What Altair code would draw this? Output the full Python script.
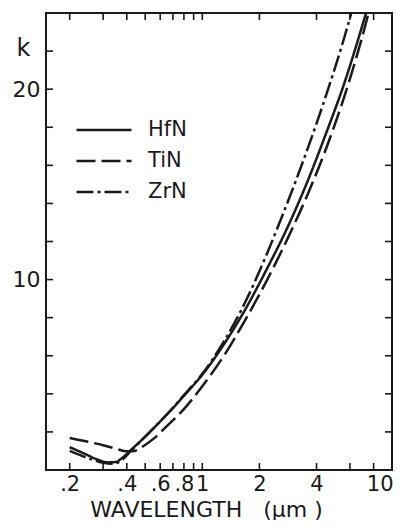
import altair as alt
import pandas as pd

# ---- data ----
materials = ["HfN", "TiN", "ZrN"]

hfn_lam = [0.2, 0.24, 0.28, 0.32, 0.35, 0.38, 0.42, 0.5, 0.6, 0.7, 0.8, 1.0, 1.3, 1.7, 2.2, 2.8, 3.6, 4.5, 5.6, 7.1, 7.6]
hfn_k = [1.2, 0.85, 0.55, 0.4, 0.42, 0.65, 1.05, 1.75, 2.55, 3.25, 3.9, 5.0, 6.6, 8.5, 10.6, 12.7, 15.2, 17.7, 20.3, 23.6, 24.6]

tin_lam = [0.2, 0.25, 0.3, 0.35, 0.4, 0.44, 0.48, 0.55, 0.65, 0.8, 1.0, 1.3, 1.7, 2.2, 2.8, 3.6, 4.5, 5.6, 7.3, 7.7]
tin_k = [1.68, 1.48, 1.3, 1.12, 0.98, 1.0, 1.2, 1.62, 2.3, 3.2, 4.4, 6.0, 7.95, 10.0, 12.1, 14.5, 16.9, 19.6, 23.5, 24.4]

zrn_lam = [0.2, 0.25, 0.3, 0.34, 0.38, 0.42, 0.5, 0.6, 0.7, 0.8, 1.0, 1.3, 1.7, 2.2, 2.8, 3.6, 4.5, 5.6, 6.3]
zrn_k = [1.0, 0.62, 0.38, 0.33, 0.55, 1.0, 1.75, 2.55, 3.27, 3.93, 5.05, 6.75, 8.9, 11.4, 14.0, 16.9, 19.7, 22.7, 24.5]

x_tick_values = [0.2, 0.3, 0.4, 0.5, 0.6, 0.7, 0.8, 0.9, 1, 2, 4, 6, 8]
x_label_values = [0.2, 0.4, 0.6, 0.8, 1, 2, 4, 10]
y_tick_values = [2, 4, 6, 8, 10, 12, 14, 16, 18, 20, 22]
y_label_values = [10, 20]

rows = []
for name, lams, ks in [("HfN", hfn_lam, hfn_k), ("TiN", tin_lam, tin_k), ("ZrN", zrn_lam, zrn_k)]:
    for l, k in zip(lams, ks):
        rows.append({"material": name, "lam": l, "k": k})
df = pd.DataFrame(rows)

W, H = 346, 457
INK = "#1a1a1a"
FONT = "DejaVu Sans"
TL = 7  # inward tick length
NB = "\u00a0"

xscale = alt.Scale(type="log", domain=[0.15, 10], nice=False)
yscale = alt.Scale(domain=[0, 24], nice=False, zero=False)

x_axis = alt.Axis(
    values=x_label_values,
    labelExpr="datum.value < 1 ? replace(format(datum.value, '.1f'), '0.', '.') : format(datum.value, 'd')",
    ticks=False, domain=False, grid=False,
    labelFontSize=21, labelFont=FONT, labelColor=INK, labelPadding=3,
    labelFlush=1, labelFlushOffset=1, labelOverlap=False,
    title="WAVELENGTH" + NB * 3 + "(μm" + NB + ")", titleFont=FONT, titleFontSize=22,
    titleFontWeight="normal", titleColor=INK, titleX=160, titleY=46,
    titleAlign="center", titleBaseline="alphabetic")
y_axis = alt.Axis(
    values=y_label_values, ticks=False, domain=False, grid=False,
    labelFontSize=22, labelFont=FONT, labelColor=INK, labelPadding=6,
    labelFlush=False, labelOverlap=False,
    title="k", titleFont=FONT, titleFontSize=24, titleFontWeight="normal", titleColor=INK,
    titleAngle=0, titleX=-23, titleY=42, titleAlign="center", titleBaseline="alphabetic")

lines = alt.Chart(df).mark_line(clip=True, strokeWidth=2.5, color=INK, interpolate="monotone").encode(
    x=alt.X("lam:Q", scale=xscale, axis=x_axis),
    y=alt.Y("k:Q", scale=yscale, axis=y_axis),
    strokeDash=alt.StrokeDash("material:N",
        scale=alt.Scale(domain=materials, range=[[1, 0], [19, 6], [17, 4, 3, 4]]),
        legend=alt.Legend(title=None, orient="none", legendX=29, legendY=107,
                          symbolType="stroke", symbolSize=3025, symbolStrokeWidth=2.5,
                          symbolStrokeColor=INK, clipHeight=20, rowPadding=10,
                          labelFontSize=21, labelFont=FONT, labelColor=INK, labelOffset=15,
                          padding=0)),
)

xt = pd.DataFrame({"v": x_tick_values})
yt = pd.DataFrame({"v": y_tick_values})

bottom_ticks = alt.Chart(xt).mark_rule(color=INK, strokeWidth=1.6).encode(
    x=alt.X("v:Q", scale=xscale, axis=x_axis), y=alt.value(H), y2=alt.value(H - TL))
top_ticks = alt.Chart(xt).mark_rule(color=INK, strokeWidth=1.6).encode(
    x=alt.X("v:Q", scale=xscale, axis=x_axis), y=alt.value(0), y2=alt.value(TL))
left_ticks = alt.Chart(yt).mark_rule(color=INK, strokeWidth=1.6).encode(
    y=alt.Y("v:Q", scale=yscale, axis=y_axis), x=alt.value(0), x2=alt.value(TL))
right_ticks = alt.Chart(yt).mark_rule(color=INK, strokeWidth=1.6).encode(
    y=alt.Y("v:Q", scale=yscale, axis=y_axis), x=alt.value(W), x2=alt.value(W - TL))

chart = alt.layer(lines, bottom_ticks, top_ticks, left_ticks, right_ticks).properties(
    width=W, height=H,
    padding={"left": 38, "top": 5, "right": 1, "bottom": 50},
    autosize=alt.AutoSizeParams(type="none"),
    background="white",
).configure_view(stroke=INK, strokeWidth=2)

chart.save("out.html", embed_options={"renderer": "svg", "actions": False})
